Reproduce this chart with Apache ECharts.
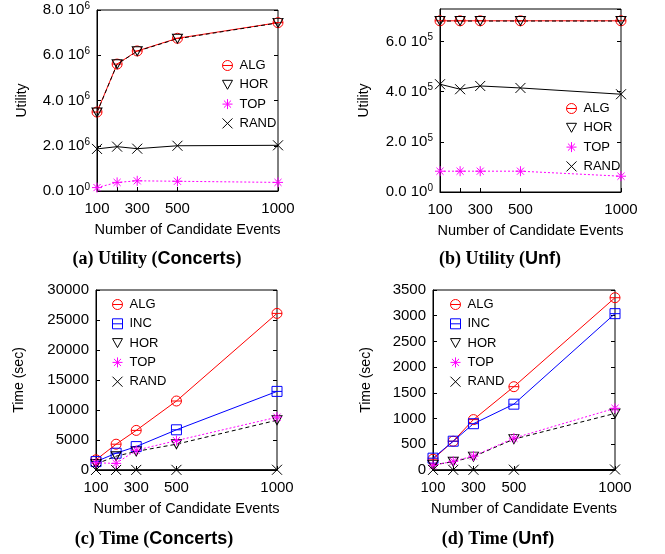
<!DOCTYPE html>
<html><head><meta charset="utf-8">
<script src="https://cdn.jsdelivr.net/npm/echarts@6/dist/echarts.min.js"></script>
<style>html,body{margin:0;padding:0;background:#fff}#c{width:665px;height:554px}</style>
</head><body><div id="c"></div>
<script>
// ---- data ----
const xVals = [100, 200, 300, 500, 1000];
const xTickLabels = [100, 300, 500, 1000];
const xTickMarks = [100, 200, 300, 500, 1000];

const utilConcertsALG = [3.49e6, 5.61e6, 6.19e6, 6.75e6, 7.44e6];
const utilConcertsHOR = [3.47e6, 5.60e6, 6.18e6, 6.73e6, 7.43e6];
const utilConcertsTOP = [0.15e6, 0.38e6, 0.45e6, 0.43e6, 0.38e6];
const utilConcertsRAND = [1.86e6, 1.96e6, 1.87e6, 2.00e6, 2.02e6];

const utilUnfALG = [6.83e5, 6.83e5, 6.83e5, 6.83e5, 6.83e5];
const utilUnfHOR = [6.82e5, 6.82e5, 6.82e5, 6.82e5, 6.82e5];
const utilUnfTOP = [0.83e5, 0.83e5, 0.83e5, 0.83e5, 0.63e5];
const utilUnfRAND = [4.30e5, 4.10e5, 4.23e5, 4.15e5, 3.90e5];

const timeConcertsALG = [1700, 4300, 6600, 11500, 26100];
const timeConcertsINC = [1400, 2800, 3900, 6700, 13100];
const timeConcertsHOR = [1000, 2300, 3100, 4300, 8300];
const timeConcertsTOP = [1200, 1100, 3300, 4900, 8800];
const timeConcertsRAND = [5, 10, 15, 25, 40];

const timeUnfALG = [210, 560, 980, 1620, 3350];
const timeUnfINC = [230, 560, 900, 1280, 3040];
const timeUnfHOR = [100, 160, 260, 600, 1100];
const timeUnfTOP = [90, 170, 270, 620, 1200];
const timeUnfRAND = [2, 3, 4, 6, 10];

const captions = [
  ['(a) Utility (', 'Concerts', ')'],
  ['(b) Utility (', 'Unf', ')'],
  ['(c) Time (', 'Concerts', ')'],
  ['(d) Time (', 'Unf', ')']
];

// ---- styles ----
const FONT = 'Liberation Sans, Arial, Helvetica, sans-serif';
const SYM = {
  ALG: 'path://M0,10A10,10,0,1,1,20,10A10,10,0,1,1,0,10ZM0,10L20,10',
  INC: 'path://M0,0L20,0L20,20L0,20ZM0,10L20,10',
  HOR: 'path://M0,0L20,0L10,18Z',
  TOP: 'path://M10,0L10,20M0,10L20,10M2.9,2.9L17.1,17.1M17.1,2.9L2.9,17.1',
  RAND: 'path://M0,0L20,20M20,0L0,20'
};
const STY = {
  ALG: {color: '#ff0000', type: 'solid'},
  INC: {color: '#0000ff', type: 'solid'},
  HOR: {color: '#000000', type: [4, 3]},
  TOP: {color: '#ff00ff', type: [2, 2]},
  RAND: {color: '#000000', type: 'solid'}
};

function mk(name, vals, g) {
  return {
    type: 'line', name: name, xAxisIndex: g, yAxisIndex: 2 * g,
    data: xVals.map((x, i) => [x, vals[i]]),
    symbol: SYM[name], symbolSize: name === 'HOR' ? [10, 9] : 10, showAllSymbol: true,
    lineStyle: {color: STY[name].color, width: 1, type: STY[name].type},
    itemStyle: {color: 'transparent', borderColor: STY[name].color, borderWidth: 1},
    emphasis: {disabled: true}, z: 3
  };
}

const grids = [
  {left: 97, right: 387, top: 10, bottom: 363},
  {left: 440, right: 44, top: 9, bottom: 362},
  {left: 96, right: 388, top: 290, bottom: 84},
  {left: 433, right: 50, top: 290, bottom: 84}
].map(g => Object.assign({show: true, borderColor: '#000', borderWidth: 1, backgroundColor: 'transparent'}, g));

function sciFmt(exp) {
  return function (v) {
    if (v === 0) return '{m|0.0 10}{s|0}';
    return '{m|' + (v / Math.pow(10, exp)).toFixed(1) + ' 10}{s|' + exp + '}';
  };
}
const plainFmt = v => String(v);
const rich = {
  m: {fontSize: 15, fontFamily: FONT, color: '#000', lineHeight: 18},
  s: {fontSize: 10, fontFamily: FONT, color: '#000', lineHeight: 10, verticalAlign: 'top'}
};

const yCfg = [
  {min: 0, max: 8e6, interval: 2e6, fmt: sciFmt(6), name: 'Utility', gap: 68},
  {min: 0, max: 7.3e5, interval: 2e5, fmt: sciFmt(5), name: 'Utility', gap: 69},
  {min: 0, max: 30000, interval: 5000, fmt: null, name: 'Time (sec)', gap: 70},
  {min: 0, max: 3500, interval: 500, fmt: null, name: 'Time (sec)', gap: 60}
];

const xAxis = grids.map((g, i) => ({
  type: 'value', gridIndex: i, min: 100, max: 1000,
  name: 'Number of Candidate Events', nameLocation: 'middle', nameGap: 31,
  nameTextStyle: {fontSize: 14.5, fontFamily: FONT, color: '#000'},
  axisLine: {show: true, lineStyle: {color: '#000', width: 1}},
  axisTick: {show: true, inside: true, length: 4, customValues: xTickMarks, lineStyle: {color: '#000'}},
  axisLabel: {customValues: xTickLabels, formatter: plainFmt, fontSize: 15, fontFamily: FONT, color: '#000', margin: 10},
  splitLine: {show: false}
}));

const yAxis = [];
yCfg.forEach((c, i) => {
  yAxis.push({
    type: 'value', gridIndex: i, min: c.min, max: c.max, interval: c.interval,
    name: c.name, nameLocation: 'middle', nameGap: c.gap,
    nameTextStyle: {fontSize: 14, fontFamily: FONT, color: '#000'},
    axisLine: {show: true, lineStyle: {color: '#000', width: 1}},
    axisTick: {show: true, inside: true, length: 4, lineStyle: {color: '#000'}},
    axisLabel: {
      formatter: c.fmt || plainFmt, rich: c.fmt ? rich : undefined,
      fontSize: 15, fontFamily: FONT, color: '#000', margin: 7, showMaxLabel: i !== 1
    },
    splitLine: {show: false}
  });
  yAxis.push({
    type: 'value', gridIndex: i, position: 'right', min: c.min, max: c.max, interval: c.interval,
    axisLine: {show: false},
    axisTick: {show: true, inside: true, length: 4, lineStyle: {color: '#000'}},
    axisLabel: {show: false}, splitLine: {show: false}
  });
});

const series = [
  mk('ALG', utilConcertsALG, 0), mk('HOR', utilConcertsHOR, 0), mk('TOP', utilConcertsTOP, 0), mk('RAND', utilConcertsRAND, 0),
  mk('ALG', utilUnfALG, 1), mk('HOR', utilUnfHOR, 1), mk('TOP', utilUnfTOP, 1), mk('RAND', utilUnfRAND, 1),
  mk('ALG', timeConcertsALG, 2), mk('INC', timeConcertsINC, 2), mk('HOR', timeConcertsHOR, 2), mk('TOP', timeConcertsTOP, 2), mk('RAND', timeConcertsRAND, 2),
  mk('ALG', timeUnfALG, 3), mk('INC', timeUnfINC, 3), mk('HOR', timeUnfHOR, 3), mk('TOP', timeUnfTOP, 3), mk('RAND', timeUnfRAND, 3)
];

function legend(names, left, top) {
  return {
    orient: 'vertical', left: left, top: top, itemWidth: 10, itemHeight: 10, itemGap: 6.3,
    padding: 0, selectedMode: false,
    data: names.map(n => ({name: n, icon: SYM[n]})),
    itemStyle: {borderWidth: 1},
    textStyle: {fontSize: 13, fontFamily: FONT, color: '#000', padding: [0, 0, 0, 2]}
  };
}

const captionPos = [[157, 259], [500, 259], [154, 539], [498, 539]];
const graphic = captions.map((c, i) => ({
  type: 'text', x: captionPos[i][0], y: captionPos[i][1],
  style: {
    text: '{t|' + c[0] + '}{h|' + c[1] + '}{t|' + c[2] + '}',
    align: 'center', verticalAlign: 'middle',
    rich: {
      t: {font: 'bold 18px "Liberation Serif", "Times New Roman", serif', fill: '#000'},
      h: {font: 'bold 18px "Liberation Sans", Arial, sans-serif', fill: '#000'}
    }
  }
}));

const chart = echarts.init(document.getElementById('c'), null, {renderer: 'canvas'});
chart.setOption({
  animation: false,
  backgroundColor: '#fff',
  grid: grids,
  xAxis: xAxis,
  yAxis: yAxis,
  legend: [
    legend(['ALG', 'HOR', 'TOP', 'RAND'], 222, 59),
    legend(['ALG', 'HOR', 'TOP', 'RAND'], 566, 102),
    legend(['ALG', 'INC', 'HOR', 'TOP', 'RAND'], 112, 298),
    legend(['ALG', 'INC', 'HOR', 'TOP', 'RAND'], 450, 298)
  ],
  series: series,
  graphic: graphic
});
</script>
</body></html>
